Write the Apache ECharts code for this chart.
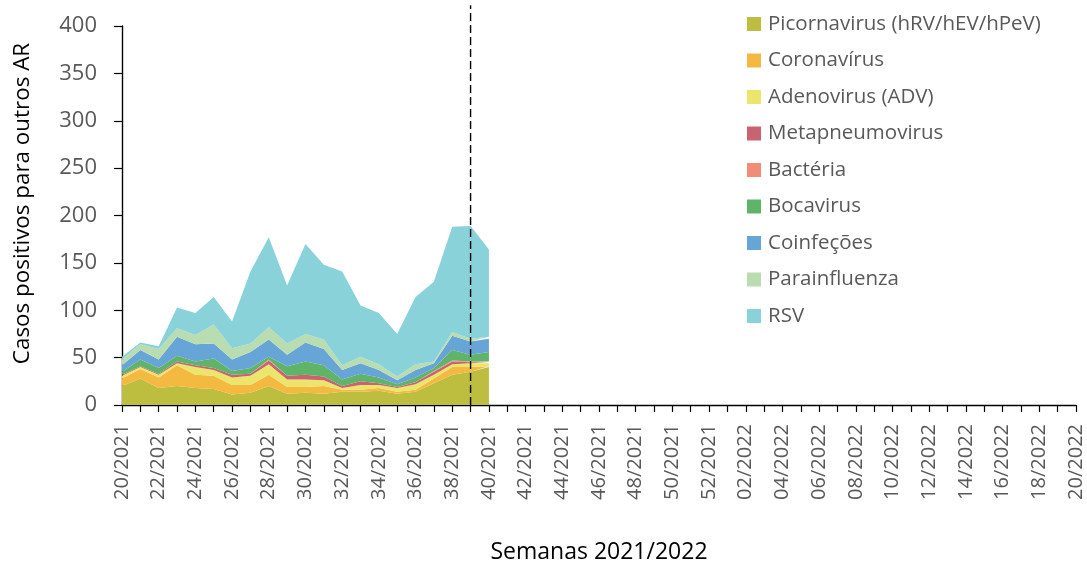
<!DOCTYPE html>
<html>
<head>
<meta charset="utf-8">
<script src="https://cdn.jsdelivr.net/npm/echarts@6/dist/echarts.min.js"></script>
<style>html,body{margin:0;padding:0;background:#fff}#c{width:1087px;height:564px}</style>
</head>
<body>
<div id="c"></div>
<script>
// Categories: weeks 20/2021 .. 52/2021, 01/2022 .. 20/2022
const weeks = [];
for (let w = 20; w <= 52; w++) weeks.push((w < 10 ? '0' : '') + w + '/2021');
for (let w = 1; w <= 20; w++) weeks.push((w < 10 ? '0' : '') + w + '/2022');

const seriesNames = ['Picornavirus (hRV/hEV/hPeV)','Coronavírus','Adenovirus (ADV)','Metapneumovirus','Bactéria','Bocavirus','Coinfeções','Parainfluenza','RSV'];
const seriesColors = ['#bdbd3f','#f4b940','#ece56b','#c9636f','#f08c78','#5fb46a','#66a5d6','#b9ddb0','#89d2d9'];

// weeks 20/2021 .. 40/2021
const picornavirus   = [20,28,18,20,18,17,11,13,20,12,13,12,14,14,15,12,14,23,32,35,40];
const coronavirus    = [ 8,10,11,22,14,14,10, 8,12, 7, 6, 8, 2, 2, 3, 2, 2, 5, 8, 5, 1];
const adenovirus     = [ 3, 2, 3, 2, 8, 6, 8,10,11, 8, 8, 6, 2, 5, 3, 4, 6, 4, 3, 4, 3];
const metapneumo     = [ 1, 1, 1, 2, 2, 2, 3, 2, 4, 4, 5, 4, 2, 4, 2, 1, 2, 3, 3, 1, 1];
const bacteria       = [ 0, 0, 0, 0, 0, 0, 0, 0, 1, 0, 0, 0, 0, 0, 0, 0, 0, 1, 1, 1, 1];
const bocavirus      = [ 3, 7, 6, 6, 4,10, 4, 6, 3,10,14,12, 7, 8, 6, 3, 5, 3,11, 7,10];
const coinfecoes     = [ 7,10, 9,20,18,16,12,17,18,12,20,17,10,11, 8, 4, 8, 5,15,14,14];
const parainfluenza  = [ 6, 6,11, 9,10,20,12, 9,13,12, 9,10, 5, 7, 6, 4, 6, 2, 4, 3, 2];
const rsv            = [ 3, 2, 3,22,23,29,28,76,95,61,95,79,99,54,54,45,71,84,111,119,92];

const allData = [picornavirus,coronavirus,adenovirus,metapneumo,bacteria,bocavirus,coinfecoes,parainfluenza,rsv];
const yTicks = [0,50,100,150,200,250,300,350,400];
const markerWeek = '39/2021';
const markerRange = [0, 422];

function pad(arr){ const out = arr.slice(); while(out.length < weeks.length) out.push(null); return out; }

const series = allData.map((d,i)=>({
  name: seriesNames[i], type:'line', stack:'total', data: pad(d),
  symbol:'none', showSymbol:false, smooth:false, clip:false,
  lineStyle:{width:0, color:seriesColors[i]},
  itemStyle:{color:seriesColors[i]},
  areaStyle:{color:seriesColors[i], opacity:1},
  emphasis:{disabled:true}, silent:true
}));
series.push({
  name:'marker', type:'line', clip:false, silent:true, symbol:'none', showSymbol:false,
  data: markerRange.map(v => [markerWeek, v]),
  lineStyle:{color:'#000', type:[8,4], width:1.4},
  itemStyle:{color:'#000'},
  emphasis:{disabled:true}, z:10
});

const chart = echarts.init(document.getElementById('c'), null, {renderer:'canvas'});
chart.setOption({
  animation:false,
  backgroundColor:'#fff',
  textStyle:{fontFamily:'Open Sans'},
  grid:{left:122, right:11, top:26, bottom:159, containLabel:false, outerBoundsMode:'none'},
  legend:{
    data: seriesNames, orient:'vertical', left:747, top:13, padding:0,
    itemWidth:14, itemHeight:14, itemGap:14.5, icon:'rect',
    textStyle:{fontSize:20.5, lineHeight:22, color:'#595959', fontFamily:'Open Sans', padding:[0,0,0,2]},
    selectedMode:false
  },
  xAxis:{
    type:'category', data:weeks, boundaryGap:false,
    name:'Semanas 2021/2022', nameLocation:'middle', nameGap:136,
    nameTextStyle:{fontSize:23, color:'#000'},
    axisLine:{lineStyle:{color:'#000', width:1.4}},
    axisTick:{show:true, interval:0, length:7, lineStyle:{color:'#000', width:1.2}},
    axisLabel:{rotate:90, interval:1, fontSize:20, color:'#595959', margin:19}
  },
  yAxis:{
    type:'value', min:0, max:400, interval:50,
    name:'Casos positivos para outros AR', nameLocation:'middle', nameGap:88, nameRotate:90,
    nameTextStyle:{fontSize:22.4, color:'#000', padding:[0,0,0,24]},
    axisLine:{show:true, lineStyle:{color:'#000', width:1.4}},
    axisTick:{show:true, length:8, lineStyle:{color:'#000', width:1.2}},
    axisLabel:{fontSize:22, color:'#595959', margin:25,
      formatter:(v)=> yTicks.includes(v) ? String(v) : ''},
    splitLine:{show:false}
  },
  series: series
});
</script>
</body>
</html>
